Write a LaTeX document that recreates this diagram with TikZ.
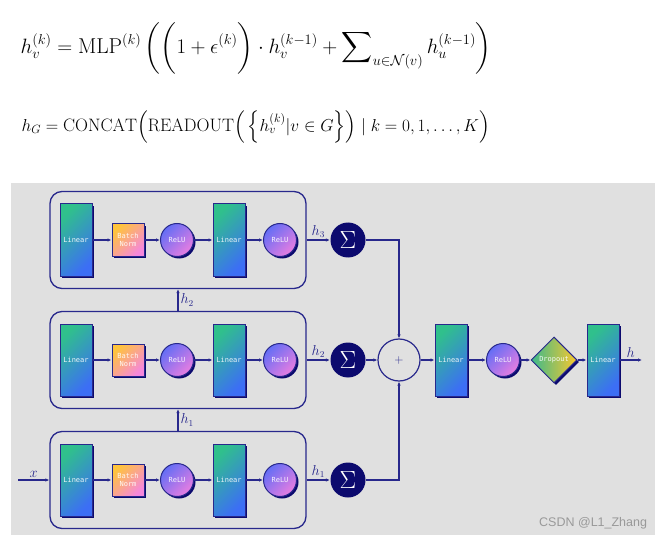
\documentclass[tikz,border=0pt]{standalone}
\usepackage{amsmath}
\usepackage{amssymb}
\usepackage{fontspec}
\setmonofont{DejaVu Sans Mono}
\newfontfamily\wmfont{Liberation Sans}
\usetikzlibrary{arrows.meta,shapes.geometric,shadows}
\definecolor{navy}{RGB}{40,40,140}
\definecolor{sumblue}{RGB}{12,10,110}
\definecolor{bggray}{RGB}{224,224,224}
\definecolor{lingreen}{RGB}{48,192,140}
\definecolor{linblue}{RGB}{60,110,245}
\definecolor{bnyellow}{RGB}{255,196,60}
\definecolor{bnpink}{RGB}{245,135,220}
\definecolor{reluviolet}{RGB}{100,110,245}
\definecolor{relupink}{RGB}{232,125,225}
\definecolor{dropgreen}{RGB}{60,185,140}
\definecolor{dropyellow}{RGB}{250,200,45}
\tikzset{
  layer/.style={draw=navy, line width=1pt, inner sep=0pt, align=center,
    font=\ttfamily\fontsize{7}{8}\selectfont, text=white, text opacity=0.9,
    drop shadow={shadow xshift=2pt, shadow yshift=-2pt, fill=sumblue, opacity=1}},
  linbox/.style={layer, rectangle, minimum width=32pt, minimum height=72pt,
    top color=lingreen, bottom color=linblue, shading angle=45},
  bnbox/.style={layer, rectangle, minimum size=32pt,
    top color=bnyellow, bottom color=bnpink, shading angle=45},
  relunode/.style={layer, circle, minimum size=33pt,
    top color=reluviolet, bottom color=relupink, shading angle=45},
  dropnode/.style={layer, diamond, aspect=1, minimum size=46pt,
    left color=dropgreen, right color=dropyellow},
  stage/.style={draw=navy, line width=1.3pt, rounded corners=12pt,
    minimum width=256pt, minimum height=97pt},
  sumnode/.style={circle, fill=sumblue, minimum size=35pt, inner sep=0pt,
    text=white, font=\fontsize{25}{25}\selectfont},
  plusnode/.style={circle, draw=navy, line width=1.2pt, minimum size=42pt,
    inner sep=0pt, text=navy, font=\fontsize{13}{13}\selectfont},
  lbl/.style={text=navy, font=\fontsize{13.5}{14}\selectfont, inner sep=2pt},
  eq/.style={inner sep=0pt}
}
\begin{document}
\begin{tikzpicture}[x=1pt,y=-1pt, line width=1.2pt, >={Latex[length=4pt,width=3.5pt]}]
\useasboundingbox (0,0) rectangle (664,540);
% formulas
\node[eq, anchor=west, font=\fontsize{21.5}{26}\selectfont] (eqmlp) at (20,48) {$\displaystyle h_v^{(k)} = \mathrm{MLP}^{(k)} \left( \bigg(1+\epsilon^{(k)}\bigg) \cdot h_v^{(k-1)} + \sum\nolimits_{u\in\mathcal{N}(v)} h_u^{(k-1)} \right)$};
\node[eq, anchor=west, font=\fontsize{18}{22}\selectfont] (eqread) at (21,127) {$h_G = \mathrm{CONCAT}\Big(\mathrm{READOUT}\Big(\,\Big\{h_v^{(k)}|v\in G\Big\}\Big)\mid k=0,1,\ldots,K\Big)$};
% background
\fill[bggray] (11,183) rectangle (655,535);
% the three GIN layers
\foreach \r/\y in {1/480,2/360,3/240}{
  \node[stage] (blk\r) at (178,\y) {};
  \node[linbox] (lina\r) at (76,\y) {Linear};
  \node[bnbox] (bn\r) at (128,\y) {Batch\\Norm};
  \node[relunode] (relua\r) at (177,\y) {ReLU};
  \node[linbox] (linb\r) at (229,\y) {Linear};
  \node[relunode] (relub\r) at (280,\y) {ReLU};
  \node[sumnode] (sum\r) at (348,\y) {$\Sigma$};
  \draw[navy,->] (lina\r) -- (bn\r);
  \draw[navy,->] (bn\r) -- (relua\r);
  \draw[navy,->] (relua\r) -- (linb\r);
  \draw[navy,->] (linb\r) -- (relub\r);
  \draw[navy,->] (blk\r.east) -- (sum\r) node[lbl,midway,above] {$h_\r$};
}
\coordinate (xin) at (18,480);
\draw[navy,->] (xin) -- (blk1.west) node[lbl,midway,above] {$x$};
\draw[navy,->] (blk1.north) -- (blk2.south) node[lbl,midway,right] {$h_1$};
\draw[navy,->] (blk2.north) -- (blk3.south) node[lbl,midway,right] {$h_2$};
% readout head
\node[plusnode] (plus) at (399,360) {$+$};
\node[linbox] (linc) at (451,360) {Linear};
\node[relunode] (reluc) at (503,360) {ReLU};
\node[dropnode] (drop) at (554,360) {Dropout};
\node[linbox] (lind) at (603,360) {Linear};
\coordinate (hout) at (642,360);
\draw[navy,->] (sum3) -| (plus);
\draw[navy,->] (sum1) -| (plus);
\draw[navy,->] (sum2) -- (plus);
\draw[navy,->] (plus) -- (linc);
\draw[navy,->] (linc) -- (reluc);
\draw[navy,->] (reluc) -- (drop);
\draw[navy,->] (drop) -- (lind);
\draw[navy,->] (lind) -- (hout) node[lbl,midway,above] {$h$};
\node[text=gray!80, font=\wmfont\fontsize{12.5}{13}\selectfont, anchor=east] (wm) at (651,523) {CSDN @L1\_Zhang};
\end{tikzpicture}
\end{document}
